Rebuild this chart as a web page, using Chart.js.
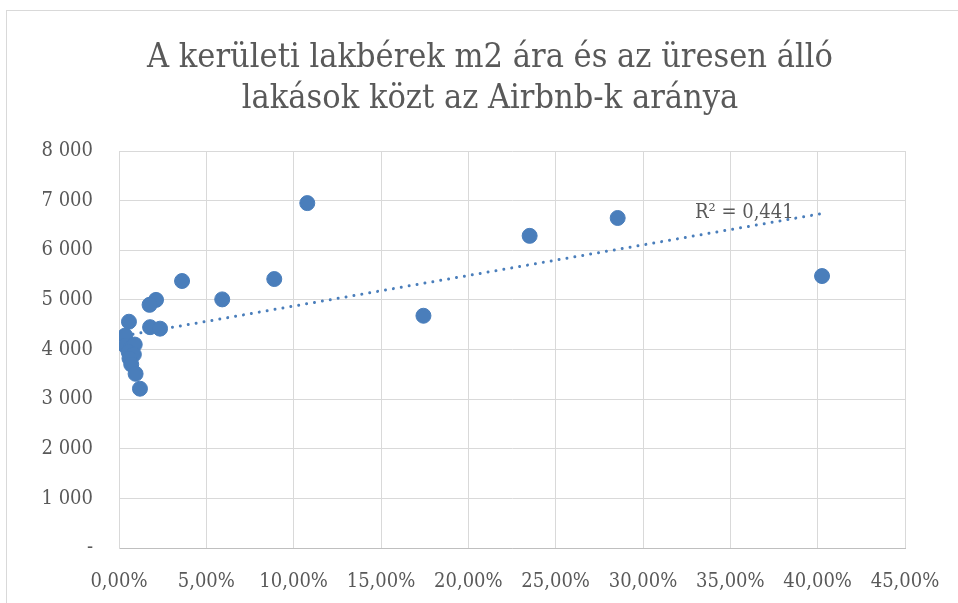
<!DOCTYPE html>
<html>
<head>
<meta charset="utf-8">
<script src="https://cdn.jsdelivr.net/npm/chart.js@4"></script>
<style>
  html, body { margin: 0; padding: 0; background: #fff; overflow: hidden; }
  #wrap { position: absolute; left: 6px; top: 10px; width: 968px; height: 600px;
          border: 1px solid #d9d9d9; box-sizing: border-box; }
</style>
</head>
<body>
<div id="wrap"><canvas id="chart" width="966" height="598"></canvas></div>
<script>
// Airbnb share among empty flats (%) and rent price per m2, by district
const airbnbShare = [10.78, 28.55, 23.51, 40.25, 17.43, 8.89, 5.91, 3.61, 2.12, 1.75, 1.78, 2.35,
                     0.57, 0.35, 0.35, 0.65, 0.9, 0.55, 0.85, 0.6, 0.7, 0.95, 1.2];
const rentPerM2 = [6950, 6650, 6290, 5480, 4680, 5420, 5010, 5380, 5000, 4900, 4450, 4420,
                   4560, 4280, 4080, 4020, 4100, 3950, 3900, 3820, 3700, 3510, 3210];

// trendline ends
const trendX = [0.35, 40.25];
const trendY = [4280, 6740];
const r2Text = 'R² = 0,441';
const r2Pos = { x: 35.8, y: 6760 };

const titleLines = ['A kerületi lakbérek m2 ára és az üresen álló', 'lakások közt az Airbnb-k aránya'];

const font = "'DejaVu Serif Condensed', 'DejaVu Serif', serif";
const grey = '#595959';
const blue = '#4a7ebb';

const points = airbnbShare.map((x, i) => ({ x: x, y: rentPerM2[i] }));
const trend = trendX.map((x, i) => ({ x: x, y: trendY[i] }));

// title centred on the whole chart box, R² label next to the trendline
const extras = {
  id: 'extras',
  afterDraw(chart) {
    const c = chart.ctx;
    c.save();
    c.fillStyle = grey;
    c.textAlign = 'center';
    c.textBaseline = 'middle';
    c.font = '34px ' + font;
    titleLines.forEach((t, i) => c.fillText(t, chart.width / 2, 47 + i * 41));
    c.font = '20px ' + font;
    c.fillText(r2Text, chart.scales.x.getPixelForValue(r2Pos.x), chart.scales.y.getPixelForValue(r2Pos.y));
    c.restore();
  }
};

const ctx = document.getElementById('chart').getContext('2d');
new Chart(ctx, {
  type: 'scatter',
  data: {
    datasets: [{
      data: points,
      backgroundColor: blue,
      borderColor: blue,
      pointRadius: 7.5,
      pointHoverRadius: 7.5,
      order: 1
    }, {
      type: 'line',
      data: trend,
      borderColor: blue,
      borderWidth: 3,
      borderDash: [0.01, 8],
      borderCapStyle: 'round',
      pointRadius: 0,
      fill: false,
      order: 2
    }]
  },
  options: {
    responsive: false,
    animation: false,
    layout: { padding: { left: 0, right: 68, top: 140, bottom: 0 } },
    plugins: {
      legend: { display: false },
      tooltip: { enabled: false },
      title: { display: false }
    },
    scales: {
      x: {
        type: 'linear',
        min: 0, max: 45,
        ticks: {
          stepSize: 5,
          color: grey,
          padding: 22,
          font: { family: font, size: 20 },
          callback: v => v.toFixed(2).replace('.', ',') + '%'
        },
        grid: { color: '#d9d9d9', drawTicks: false },
        border: { color: '#bfbfbf' },
        afterFit(s) { s.height = 61; }
      },
      y: {
        min: 0, max: 8000,
        ticks: {
          stepSize: 1000,
          color: grey,
          padding: 26,
          font: { family: font, size: 20 },
          callback: v => v === 0 ? '-' : (v / 1000) + ' 000'
        },
        grid: { color: '#d9d9d9', drawTicks: false },
        border: { color: '#d9d9d9' },
        afterFit(s) { s.width = 112; }
      }
    }
  },
  plugins: [extras]
});
</script>
</body>
</html>
